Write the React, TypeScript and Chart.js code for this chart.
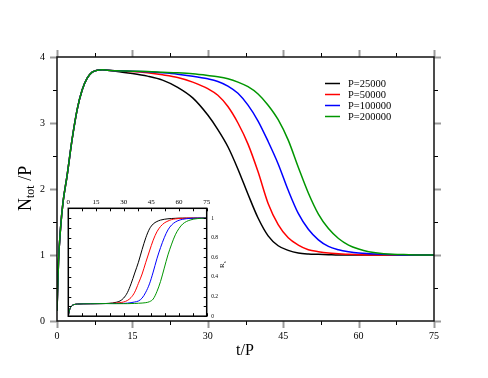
import React, { useEffect, useRef } from 'react';
import { Chart, registerables } from 'chart.js';

Chart.register(...registerables);

// ---------- data ----------
const tMain = [0, 0.3, 0.7, 1.2, 2, 3, 4, 5, 6, 7, 8, 9, 10, 12, 15, 18, 21, 24, 27, 30, 32, 34, 36, 38, 40, 42, 44, 46, 48, 50, 52, 54, 56, 58, 60, 62, 65, 70, 75];
const rise = [0.15, 0.9, 1.4, 1.8, 2.2, 2.75, 3.2, 3.5, 3.68, 3.77, 3.8, 3.805, 3.8];
const mainP25000 = [...rise, 3.78, 3.75, 3.71, 3.65, 3.54, 3.38, 3.12, 2.9, 2.64, 2.3, 1.92, 1.56, 1.29, 1.14, 1.07, 1.03, 1.015, 1.01, 1.005, 1.0, 1.0, 1.0, 1.0, 1.0, 1.0, 1.0];
const mainP50000 = [...rise, 3.79, 3.78, 3.76, 3.73, 3.69, 3.62, 3.52, 3.42, 3.25, 3.0, 2.68, 2.26, 1.78, 1.46, 1.26, 1.15, 1.08, 1.05, 1.03, 1.02, 1.01, 1.005, 1.0, 1.0, 1.0, 1.0];
const mainP100000 = [...rise, 3.79, 3.785, 3.775, 3.76, 3.74, 3.71, 3.67, 3.63, 3.56, 3.45, 3.27, 3.03, 2.72, 2.38, 1.98, 1.63, 1.39, 1.23, 1.13, 1.08, 1.05, 1.03, 1.02, 1.01, 1.0, 1.0];
const mainP200000 = [...rise, 3.79, 3.785, 3.78, 3.77, 3.76, 3.745, 3.72, 3.7, 3.67, 3.62, 3.55, 3.44, 3.27, 3.05, 2.74, 2.33, 1.94, 1.62, 1.4, 1.25, 1.15, 1.09, 1.05, 1.02, 1.005, 1.0];

const tInset = [0, 0.5, 1, 2, 3, 5, 8, 12, 16, 20, 24, 26, 28, 30, 32, 34, 36, 38, 40, 42, 44, 46, 48, 50, 52, 54, 56, 58, 60, 62, 64, 66, 68, 70, 72, 75];
const insetRise = [0, 0.05, 0.08, 0.108, 0.118, 0.124, 0.126, 0.127, 0.128, 0.129];
const insetP25000 = [...insetRise, 0.135, 0.142, 0.155, 0.185, 0.24, 0.33, 0.44, 0.55, 0.68, 0.8, 0.89, 0.94, 0.965, 0.98, 0.988, 0.993, 0.996, 0.998, 1.0, 1.0, 1.0, 1.0, 1.0, 1.0, 1.0, 1.0];
const insetP50000 = [...insetRise, 0.131, 0.134, 0.138, 0.145, 0.16, 0.19, 0.245, 0.335, 0.43, 0.55, 0.665, 0.775, 0.86, 0.915, 0.95, 0.97, 0.985, 0.992, 0.996, 0.998, 1.0, 1.0, 1.0, 1.0, 1.0, 1.0];
const insetP100000 = [...insetRise, 0.129, 0.129, 0.13, 0.13, 0.133, 0.138, 0.145, 0.155, 0.185, 0.245, 0.33, 0.45, 0.585, 0.7, 0.8, 0.88, 0.93, 0.96, 0.978, 0.988, 0.994, 0.997, 0.999, 1.0, 1.0, 1.0];
const insetP200000 = [...insetRise, 0.128, 0.128, 0.128, 0.128, 0.128, 0.129, 0.13, 0.132, 0.134, 0.138, 0.148, 0.175, 0.25, 0.355, 0.49, 0.625, 0.735, 0.83, 0.895, 0.94, 0.965, 0.98, 0.99, 0.995, 0.998, 1.0];

const seriesLabels = ['P=25000', 'P=50000', 'P=100000', 'P=200000'];
const seriesColors = ['#000000', '#ff0000', '#0000ff', '#009600'];
const mainSeries = [mainP25000, mainP50000, mainP100000, mainP200000];
const insetSeries = [insetP25000, insetP50000, insetP100000, insetP200000];

const mainXTicks = [0, 15, 30, 45, 60, 75];
const mainYTicks = [0, 1, 2, 3, 4];
const insetXTicks = [0, 15, 30, 45, 60, 75];
const insetYTicks = [0, 0.2, 0.4, 0.6, 0.8, 1];

const SERIF = "'Liberation Serif', 'DejaVu Serif', serif";

function withMinors(majors: number[]): number[] {
  const out: number[] = [];
  for (let i = 0; i < majors.length; i++) {
    out.push(majors[i]);
    if (i < majors.length - 1) out.push((majors[i] + majors[i + 1]) / 2);
  }
  return out;
}

const mainDecor = {
  id: 'mainDecor',
  afterDraw(chart: any) {
    const { ctx, chartArea: a, scales } = chart;
    const xs = scales.x;
    const ys = scales.y;
    ctx.save();
    const drawTick = (x1: number, y1: number, x2: number, y2: number, major: boolean) => {
      ctx.beginPath();
      ctx.strokeStyle = major ? '#9a9a9a' : '#000';
      ctx.lineWidth = major ? 2 : 1;
      ctx.moveTo(x1, y1);
      ctx.lineTo(x2, y2);
      ctx.stroke();
    };
    withMinors(mainXTicks).forEach((v) => {
      const major = mainXTicks.includes(v);
      const L = major ? 7 : 4;
      const px = Math.round(xs.getPixelForValue(v)) + 0.5;
      drawTick(px, a.bottom, px, a.bottom + L, major);
      drawTick(px, a.top, px, a.top - L, major);
    });
    withMinors(mainYTicks).forEach((v) => {
      const major = mainYTicks.includes(v);
      const L = major ? 7 : 4;
      const py = Math.round(ys.getPixelForValue(v)) + 0.5;
      drawTick(a.left, py, a.left - L, py, major);
      drawTick(a.right, py, a.right + L, py, major);
    });
    ctx.strokeStyle = '#111';
    ctx.lineWidth = 1.5;
    ctx.strokeRect(a.left, a.top, a.right - a.left, a.bottom - a.top);

    ctx.fillStyle = '#000';
    ctx.textBaseline = 'alphabetic';
    ctx.font = `16px ${SERIF}`;
    ctx.textAlign = 'center';
    ctx.fillText('t/P', 245, 355);

    ctx.save();
    ctx.translate(31, 211);
    ctx.rotate(-Math.PI / 2);
    ctx.textAlign = 'left';
    ctx.font = `18px ${SERIF}`;
    ctx.fillText('N', 0, 0);
    const wN = ctx.measureText('N').width;
    ctx.font = `12px ${SERIF}`;
    ctx.fillText('tot', wN, 3);
    const wT = ctx.measureText('tot').width;
    ctx.font = `18px ${SERIF}`;
    ctx.fillText(' /P', wN + wT, 0);
    ctx.restore();

    ctx.font = `10.5px ${SERIF}`;
    ctx.textAlign = 'left';
    ctx.textBaseline = 'middle';
    chart.data.datasets.forEach((ds: any, i: number) => {
      const y = 83.5 + i * 11;
      ctx.beginPath();
      ctx.strokeStyle = ds.borderColor;
      ctx.lineWidth = 1.5;
      ctx.moveTo(325, y);
      ctx.lineTo(340, y);
      ctx.stroke();
      ctx.fillStyle = '#000';
      ctx.fillText(ds.label, 348, y + 0.5);
    });
    ctx.restore();
  },
};

const insetDecor = {
  id: 'insetDecor',
  beforeDatasetsDraw(chart: any) {
    const { ctx, chartArea: a } = chart;
    ctx.save();
    ctx.fillStyle = '#fff';
    ctx.fillRect(a.left, a.top, a.right - a.left, a.bottom - a.top);
    ctx.restore();
  },
  afterDraw(chart: any) {
    const { ctx, chartArea: a, scales } = chart;
    const xs = scales.x;
    const ys = scales.y;
    ctx.save();
    ctx.strokeStyle = '#000';
    ctx.lineWidth = 1;
    withMinors(insetXTicks).forEach((v) => {
      const px = Math.round(xs.getPixelForValue(v)) + 0.5;
      ctx.beginPath();
      ctx.moveTo(px, a.bottom);
      ctx.lineTo(px, a.bottom - 3);
      ctx.moveTo(px, a.top);
      ctx.lineTo(px, a.top + 3);
      ctx.stroke();
    });
    withMinors(insetYTicks).forEach((v) => {
      const py = Math.round(ys.getPixelForValue(v)) + 0.5;
      ctx.beginPath();
      ctx.moveTo(a.left, py);
      ctx.lineTo(a.left + 3, py);
      ctx.moveTo(a.right, py);
      ctx.lineTo(a.right - 3, py);
      ctx.stroke();
    });
    ctx.lineWidth = 1.5;
    ctx.strokeRect(a.left, a.top, a.right - a.left, a.bottom - a.top);

    ctx.fillStyle = '#000';
    ctx.translate(164, 78);
    ctx.rotate(-Math.PI / 2);
    ctx.textAlign = 'left';
    ctx.textBaseline = 'alphabetic';
    ctx.font = `7px ${SERIF}`;
    ctx.fillText('R', 0, 0);
    const wR = ctx.measureText('R').width;
    ctx.font = `5px ${SERIF}`;
    ctx.fillText('s', wR, 2);
    ctx.restore();
  },
};

export default function App() {
  const mainRef = useRef<HTMLCanvasElement | null>(null);
  const insetRef = useRef<HTMLCanvasElement | null>(null);

  useEffect(() => {
    if (!mainRef.current || !insetRef.current) return;

    const main = new Chart(mainRef.current, {
      type: 'line',
      data: {
        datasets: mainSeries.map((vals, i) => ({
          label: seriesLabels[i],
          data: tMain.map((t, j) => ({ x: t, y: vals[j] })),
          borderColor: seriesColors[i],
          backgroundColor: seriesColors[i],
          borderWidth: 1.5,
          pointRadius: 0,
          fill: false,
          order: mainSeries.length - 1 - i,
          cubicInterpolationMode: 'monotone',
        })),
      },
      options: {
        animation: false,
        responsive: false,
        maintainAspectRatio: false,
        layout: { padding: { top: 57, right: 54, left: 0, bottom: 0 } },
        plugins: { legend: { display: false }, tooltip: { enabled: false } },
        scales: {
          x: {
            type: 'linear',
            min: 0,
            max: 75,
            afterBuildTicks: (s: any) => {
              s.ticks = mainXTicks.map((value) => ({ value }));
            },
            afterFit: (s: any) => {
              s.height = 57;
            },
            grid: { display: false, drawTicks: false },
            border: { display: false },
            ticks: {
              color: '#000',
              padding: 9,
              maxRotation: 0,
              autoSkip: false,
              font: { family: SERIF, size: 10 },
              callback: (v: any) => String(v),
            },
          },
          y: {
            type: 'linear',
            min: 0,
            max: 4,
            afterBuildTicks: (s: any) => {
              s.ticks = mainYTicks.map((value) => ({ value }));
            },
            afterFit: (s: any) => {
              s.width = 57;
            },
            grid: { display: false, drawTicks: false },
            border: { display: false },
            ticks: {
              color: '#000',
              padding: 12,
              autoSkip: false,
              font: { family: SERIF, size: 10 },
              callback: (v: any) => String(v),
            },
          },
        },
      },
      plugins: [mainDecor],
    } as any);

    const inset = new Chart(insetRef.current, {
      type: 'line',
      data: {
        datasets: insetSeries.map((vals, i) => ({
          label: seriesLabels[i],
          data: tInset.map((t, j) => ({ x: t, y: vals[j] })),
          borderColor: seriesColors[i],
          backgroundColor: seriesColors[i],
          borderWidth: 1,
          pointRadius: 0,
          fill: false,
          order: insetSeries.length - 1 - i,
          cubicInterpolationMode: 'monotone',
        })),
      },
      options: {
        animation: false,
        responsive: false,
        maintainAspectRatio: false,
        layout: { padding: { top: 0, right: 0, left: 8.3, bottom: 6.3 } },
        plugins: { legend: { display: false }, tooltip: { enabled: false } },
        scales: {
          x: {
            type: 'linear',
            position: 'top',
            min: 0,
            max: 75,
            afterBuildTicks: (s: any) => {
              s.ticks = insetXTicks.map((value) => ({ value }));
            },
            afterFit: (s: any) => {
              s.height = 18.3;
            },
            grid: { display: false, drawTicks: false },
            border: { display: false },
            ticks: {
              color: '#000',
              padding: 2,
              maxRotation: 0,
              autoSkip: false,
              font: { family: SERIF, size: 7 },
              callback: (v: any) => String(v),
            },
          },
          y: {
            type: 'linear',
            position: 'right',
            min: 0,
            max: 1.1,
            afterBuildTicks: (s: any) => {
              s.ticks = insetYTicks.map((value) => ({ value }));
            },
            afterFit: (s: any) => {
              s.width = 33.3;
            },
            grid: { display: false, drawTicks: false },
            border: { display: false },
            ticks: {
              color: '#000',
              padding: 4.5,
              autoSkip: false,
              font: { family: SERIF, size: 5.5 },
              callback: (v: any) => (v === 0 || v === 1 ? String(v) : Number(v).toFixed(1)),
            },
          },
        },
      },
      plugins: [insetDecor],
    } as any);

    return () => {
      main.destroy();
      inset.destroy();
    };
  }, []);

  return (
    <div style={{ position: 'absolute', left: 0, top: 0, width: 488, height: 378, background: '#fff' }}>
      <canvas ref={mainRef} width={488} height={378} style={{ position: 'absolute', left: 0, top: 0, width: 488, height: 378 }} />
      <canvas ref={insetRef} width={180} height={134} style={{ position: 'absolute', left: 60, top: 190, width: 180, height: 134 }} />
    </div>
  );
}
